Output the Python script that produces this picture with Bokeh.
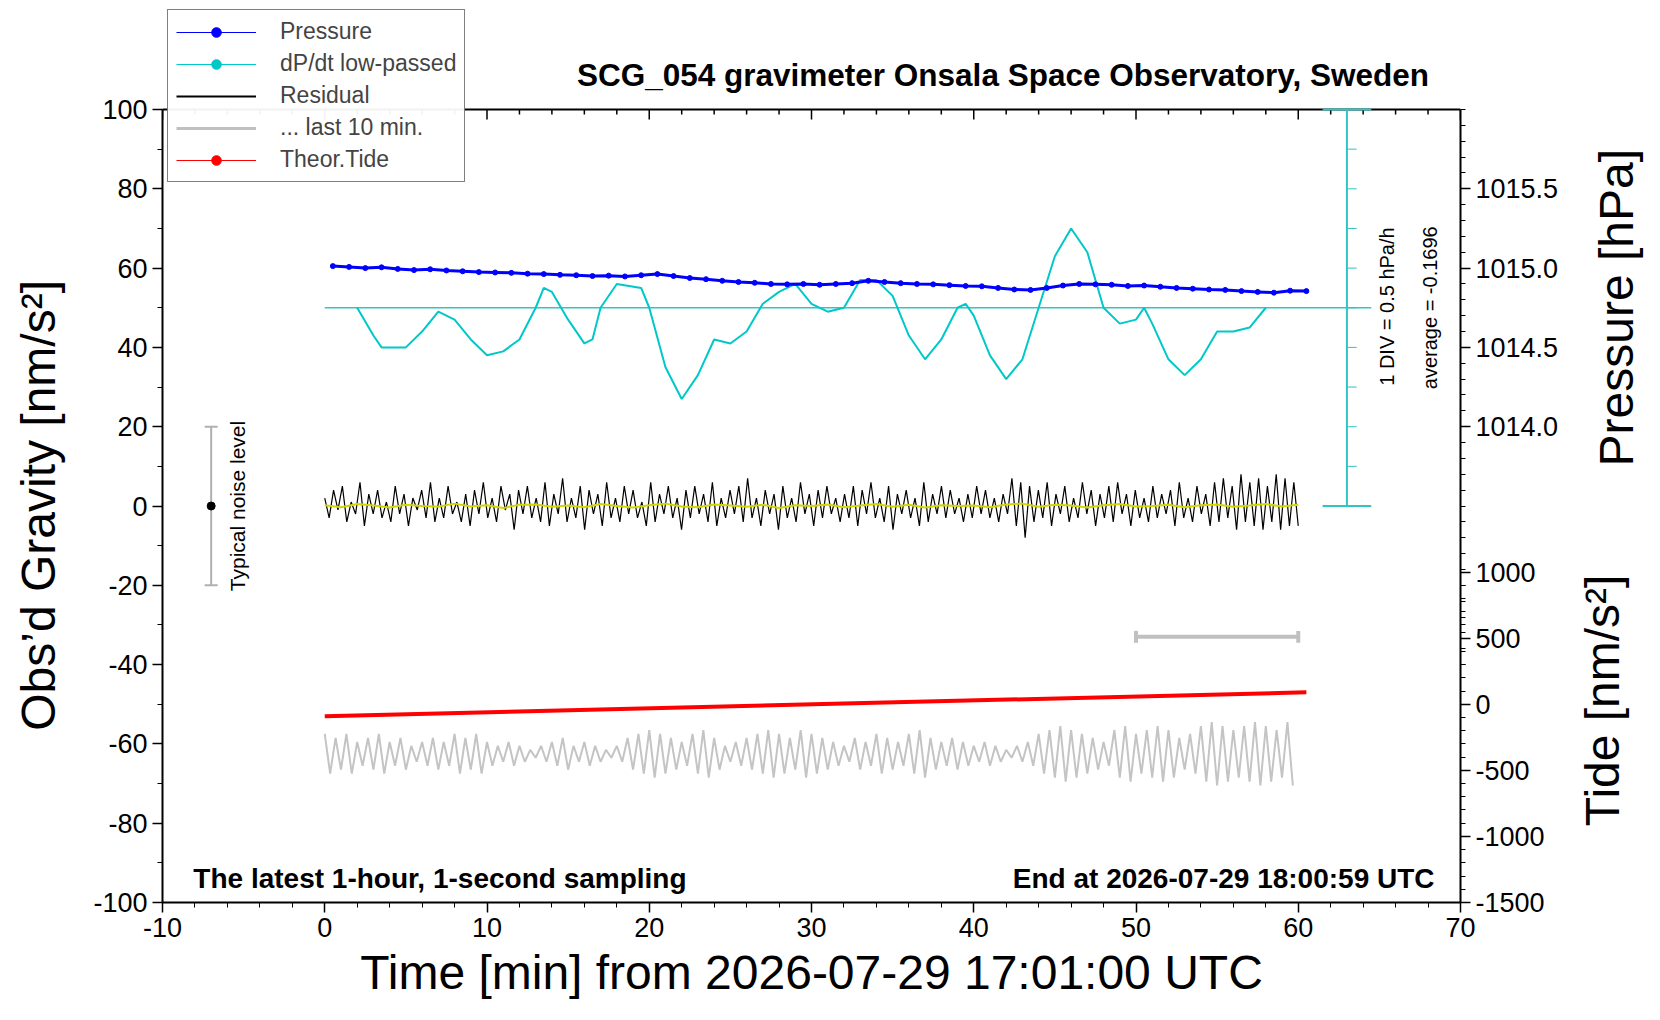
from bokeh.plotting import figure
from bokeh.layouts import row
from bokeh.models import (Range1d, LinearAxis, FixedTicker, Label, Legend, LegendItem,
                          SingleIntervalTicker, PrintfTickFormatter)
from bokeh.embed import file_html
from bokeh.resources import INLINE

# ---------------- data ----------------
press_t = [0.5 + i for i in range(61)]
press_g = [60.5, 60.3, 60.0, 60.2, 59.8, 59.5, 59.7, 59.4, 59.2, 59.0, 58.9, 58.8, 58.6, 58.5, 58.3,
           58.2, 58.0, 58.1, 57.9, 58.2, 58.5, 58.0, 57.5, 57.2, 56.8, 56.5, 56.3, 56.0, 55.9, 56.0,
           55.8, 56.0, 56.2, 56.8, 56.5, 56.2, 56.0, 55.9, 55.7, 55.5, 55.4, 55.0, 54.6, 54.5, 55.0,
           55.6, 56.0, 55.9, 55.8, 55.5, 55.6, 55.3, 55.0, 54.8, 54.6, 54.5, 54.2, 54.0, 53.8, 54.3, 54.2]

dpdt_t = [2, 3, 3.5, 5, 6, 7, 8, 9, 10, 11, 12, 13, 13.5, 14, 15, 16, 16.5, 17, 18, 19.5, 20, 21, 22, 23,
          24, 25, 26, 27, 28, 29, 30, 31, 32, 33, 34, 35, 36, 37, 38, 39, 39.5, 40, 41, 42, 43, 44, 45,
          46, 47, 48, 49, 50, 50.5, 51, 52, 53, 54, 55, 56, 57, 58]
dpdt_g = [50, 43, 40, 40, 44, 49, 47, 42, 38, 39, 42, 50, 55, 54, 47, 41, 42, 50, 56, 55, 50, 35, 27, 33,
          42, 41, 44, 51, 54, 56, 51, 49, 50, 57, 57, 53, 43, 37, 42, 50, 51, 48, 38, 32, 37, 50, 63,
          70, 64, 50, 46, 47, 50, 46, 37, 33, 37, 44, 44, 45, 50]

resid = [2, -3, 4, -1, 5, -4, 1, -2, 6, -5, 3, -2, 4, -3, 1, -4, 5, -2, 3, -5, 2, -1, 4, -3, 6, -4, 2, -3,
         5, -2, 1, -4, 3, -5, 4, -2, 6, -3, 2, -4, 5, -1, 3, -6, 4, -2, 5, -3, 2, -4, 6, -5, 3, -2, 7, -4,
         2, -3, 5, -6, 4, -2, 3, -5, 6, -3, 2, -4, 5, -2, 4, -3, 1, -5, 6, -4, 3, -2, 5, -3, 2, -6, 4, -3,
         5, -2, 3, -4, 6, -5, 2, -3, 4, -2, 5, -4, 7, -3, 2, -5, 4, -2, 3, -6, 5, -3, 2, -4, 6, -2, 3, -5,
         4, -3, 5, -2, 2, -4, 3, -3, 5, -5, 4, -2, 6, -3, 2, -4, 5, -6, 3, -2, 4, -3, 2, -5, 6, -4, 3, -2,
         5, -3, 4, -2, 2, -4, 3, -3, 5, -2, 4, -3, 2, -4, 3, -2, 7, -5, 6, -8, 5, -4, 4, -3, 6, -5, 3, -2,
         5, -4, 2, -3, 6, -2, 4, -5, 3, -3, 5, -4, 6, -2, 3, -5, 4, -3, 2, -4, 5, -3, 3, -2, 4, -5, 6, -3,
         2, -4, 5, -2, 3, -5, 6, -4, 7, -3, 5, -6, 8, -4, 6, -5, 7, -6, 5, -4, 8, -6, 7, -5, 6, -5]

yellow = [0.2, -0.3, 0.5, 0.1, -0.4, 0.3, 0.0, -0.2, 0.6, -0.1, 0.2, -0.5, 0.3, 0.4, -0.2, 0.1, -0.3,
          0.5, 0.0, -0.4, 0.2, 0.6, -0.1, -0.3, 0.4, 0.1, -0.2, 0.3, -0.5, 0.2, 0.0, 0.4, -0.3, 0.1,
          0.5, -0.2, 0.3, -0.4, 0.2, 0.0, 0.1, -0.3, 0.4, 0.6, -0.2, 0.3, 0.1, -0.4, 0.2, 0.5, -0.1,
          0.0, 0.3, -0.3, 0.2, 0.4, -0.2, 0.1, 0.5, -0.1, 0.3]

grey_amp = [5, 4, 5, 3, 4, 5, 3, 4, 2, 3, 4, 3, 5, 4, 5, 3, 2, 3, 2, 1, 2, 3, 4, 2, 3, 2, 1, 2, 4, 5,
            6, 5, 4, 3, 5, 6, 4, 2, 3, 4, 5, 6, 5, 4, 6, 5, 4, 3, 2, 4, 3, 5, 4, 3, 5, 6, 4, 3, 4, 3,
            2, 3, 2, 1, 2, 3, 5, 6, 7, 6, 5, 4, 3, 6, 7, 5, 6, 7, 6, 4, 5, 7, 8, 7, 6, 7, 8, 7, 6, 8]
grey_center = -62.5

tide_t = [0, 60.5]
tide_g = [-53, -47]

div_ticks = [0, 10, 20, 30, 40, 50, 60, 70, 80, 90, 100]
top_ticks = [-10 + 2 * i for i in range(41)]

press_ticks = [1014.0, 1014.5, 1015.0, 1015.5]
tide_ticks = [-1500, -1000, -500, 0, 500, 1000]

FONT = "Liberation Sans"
YPX = 3.965  # px per gravity unit
H = 1004
BOTTOM = 102
TOPEXT = H - BOTTOM - 200 * YPX

def side_fig(w):
    f = figure(width=w, height=H, output_backend="svg", toolbar_location=None,
               x_range=Range1d(0, w), y_range=Range1d(0, H), x_axis_location=None,
               y_axis_location=None, min_border=0)
    f.xgrid.visible = False
    f.ygrid.visible = False
    f.outline_line_color = None
    return f

# left label panel
p0 = side_fig(72)
p0.add_layout(Label(x=38, y=H - 562, text="Obs\u2019d Gravity [nm/s\u00b2]", angle=1.5708,
                    text_align="center", text_baseline="middle", text_font=FONT,
                    text_font_size="48px", text_color="black"))
# right label panel
p2 = side_fig(80)
p2.add_layout(Label(x=52, y=H - 342, text="Pressure [hPa]", angle=1.5708, text_align="center",
                    text_baseline="middle", text_font=FONT, text_font_size="48px", text_color="black"))
p2.add_layout(Label(x=38, y=H - 779, text="Tide [nm/s\u00b2]", angle=1.5708, text_align="center",
                    text_baseline="middle", text_font=FONT, text_font_size="48px", text_color="black"))

p = figure(width=1492, height=H, output_backend="svg", toolbar_location=None,
           x_range=Range1d(-10, 70), y_range=Range1d(-100, 100 + TOPEXT / YPX),
           min_border_left=90, min_border_right=104, min_border_top=0, min_border_bottom=BOTTOM)
p.xgrid.visible = False
p.ygrid.visible = False
p.outline_line_color = None

for ax in (p.xaxis[0], p.yaxis[0]):
    ax.axis_line_width = 2
    ax.major_tick_line_width = 1.5
    ax.major_label_text_font = FONT
    ax.major_label_text_font_size = "27px"
    ax.major_label_text_color = "black"
    ax.axis_label_text_font = FONT
    ax.axis_label_text_font_style = "normal"
    ax.axis_label_text_font_size = "48px"
    ax.axis_label_text_color = "black"
    ax.major_tick_out = 10
    ax.major_tick_in = 0
    ax.minor_tick_out = 5
    ax.minor_tick_in = 0
    ax.formatter = PrintfTickFormatter(format="%d")
p.xaxis.ticker = SingleIntervalTicker(interval=10, num_minor_ticks=5)
p.yaxis.ticker = SingleIntervalTicker(interval=20, num_minor_ticks=2)
p.yaxis.bounds = (-100, 100)
p.xaxis.axis_label = "Time [min] from 2026-07-29 17:01:00 UTC"
p.xaxis.axis_label_standoff = 6

# right axis: pressure + tide ticks mapped to gravity scale
r_ticks = [(v - 1014.0) * 40 + 20 for v in press_ticks] + [-50 + v / 30 for v in tide_ticks]
r_minor = [(1012.5 + 0.1 * i - 1014.0) * 40 + 20 for i in range(36)] + \
          [-50 + (-1500 + 100 * i) / 30 for i in range(26)]
overrides = {}
for v in press_ticks:
    overrides[(v - 1014.0) * 40 + 20] = "%.1f" % v
for v in tide_ticks:
    overrides[-50 + v / 30] = str(v)
right = LinearAxis(ticker=FixedTicker(ticks=r_ticks, minor_ticks=[m for m in r_minor if -100 <= m <= 100]),
                   major_label_overrides=overrides, major_label_text_font=FONT,
                   major_label_text_color="black", bounds=(-100, 100),
                   major_label_text_font_size="27px", axis_line_width=2, major_tick_line_width=1.5,
                   major_tick_out=10, major_tick_in=0, minor_tick_out=5, minor_tick_in=0)
p.add_layout(right, "right")

# frame top border + top ticks
p.segment(x0=[-10], y0=[100], x1=[70], y1=[100], line_color="black", line_width=2)
p.segment(x0=top_ticks, y0=[100] * len(top_ticks), x1=top_ticks,
          y1=[100 - (10 if t % 10 == 0 else 5) / YPX for t in top_ticks], line_color="black", line_width=1.5)

# ---------------- glyphs ----------------
CY = "#33c4c4"
p.segment(x0=[0], y0=[50], x1=[64.5], y1=[50], line_color=CY, line_width=1.5)
p.segment(x0=[63], y0=[0], x1=[63], y1=[100], line_color=CY, line_width=2)
p.segment(x0=[61.5, 61.5], y0=[0, 100], x1=[64.5, 64.5], y1=[0, 100], line_color=CY, line_width=2)
p.segment(x0=[63] * len(div_ticks), y0=div_ticks, x1=[63.6] * len(div_ticks), y1=div_ticks,
          line_color=CY, line_width=1)

p.line(dpdt_t, dpdt_g, line_color="#00c8c8", line_width=2)

p.line(press_t, press_g, line_color="blue", line_width=3)
p.scatter(press_t, press_g, size=5, color="blue")

res_t = [i * 60.0 / (len(resid) - 1) for i in range(len(resid))]
p.line(res_t, resid, line_color="black", line_width=1.2)
p.line([i for i in range(61)], yellow, line_color="#d4d400", line_width=2)

gx, gy = [], []
for i, a in enumerate(grey_amp):
    gx += [i * 60.0 / len(grey_amp), (i + 0.5) * 60.0 / len(grey_amp)]
    gy += [grey_center + a, grey_center - a]
p.line(gx, gy, line_color="#c4c4c4", line_width=2)

p.line(tide_t, tide_g, line_color="red", line_width=4)

p.segment(x0=[50], y0=[-33], x1=[60], y1=[-33], line_color="#c0c0c0", line_width=4)
p.segment(x0=[50, 60], y0=[-31.5, -31.5], x1=[50, 60], y1=[-34.5, -34.5], line_color="#c0c0c0", line_width=4)

p.segment(x0=[-7], y0=[-20], x1=[-7], y1=[20], line_color="#b0b0b0", line_width=2)
p.segment(x0=[-7.4, -7.4], y0=[-20, 20], x1=[-6.6, -6.6], y1=[-20, 20], line_color="#b0b0b0", line_width=2)
p.scatter([-7], [0], size=8, color="black")
p.add_layout(Label(x=-5.4, y=0, text="Typical noise level", angle=1.5708, text_align="center",
                   text_baseline="middle", text_font=FONT, text_font_size="21px", text_color="black"))

# texts
p.add_layout(Label(x=41.8, y=108.7, text="SCG_054 gravimeter Onsala Space Observatory, Sweden",
                   text_align="center", text_baseline="middle", text_font=FONT,
                   text_font_style="bold", text_font_size="31.5px", text_color="black"))
p.add_layout(Label(x=-8.1, y=-94, text="The latest 1-hour, 1-second sampling", text_align="left",
                   text_baseline="middle", text_font=FONT, text_font_style="bold", text_font_size="28px",
                   text_color="black"))
p.add_layout(Label(x=68.4, y=-94, text="End at 2026-07-29 18:00:59 UTC", text_align="right",
                   text_baseline="middle", text_font=FONT, text_font_style="bold", text_font_size="28px",
                   text_color="black"))
p.add_layout(Label(x=65.5, y=50.3, text="1 DIV = 0.5 hPa/h", angle=1.5708, text_align="center",
                   text_baseline="middle", text_font=FONT, text_font_size="20px", text_color="black"))
p.add_layout(Label(x=68.1, y=50, text="average = -0.1696", angle=1.5708, text_align="center",
                   text_baseline="middle", text_font=FONT, text_font_size="20px", text_color="black"))

# legend
lp = p.scatter([-100], [0], size=6, color="blue")
ldp = p.scatter([-100], [0], size=6, color="#00c8c8")
lt = p.scatter([-100], [0], size=6, color="red")
lpl = p.line([-100, -99], [0, 0], line_color="blue", line_width=1)
ldl = p.line([-100, -99], [0, 0], line_color="#00c8c8", line_width=1)
ltl = p.line([-100, -99], [0, 0], line_color="red", line_width=1)
lres = p.line([-100, -99], [0, 0], line_color="black", line_width=2)
lgr = p.line([-100, -99], [0, 0], line_color="#c0c0c0", line_width=3)
legend = Legend(items=[LegendItem(label="Pressure", renderers=[lpl, lp]),
                       LegendItem(label="dP/dt low-passed", renderers=[ldl, ldp]),
                       LegendItem(label="Residual", renderers=[lres]),
                       LegendItem(label="... last 10 min.", renderers=[lgr]),
                       LegendItem(label="Theor.Tide", renderers=[ltl, lt])],
                location=(5, 720), label_text_font=FONT, label_text_font_size="23px",
                glyph_width=80, glyph_height=24, spacing=5, padding=8, margin=0,
                label_standoff=24, border_line_color="black", border_line_width=1,
                label_height=24)
p.add_layout(legend, "center")

lay = row(p0, p, p2, spacing=0)
open("out.html", "w").write(file_html(lay, INLINE))
